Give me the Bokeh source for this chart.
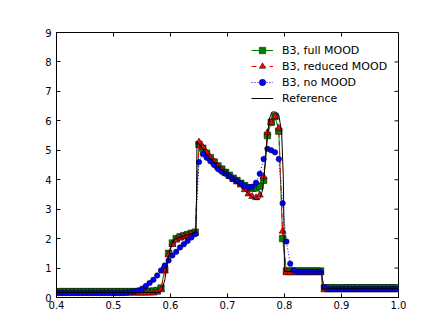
import numpy as np
from bokeh.plotting import figure
from bokeh.models import Range1d, LinearAxis, FixedTicker, Legend, LegendItem
from bokeh.embed import file_html
from bokeh.resources import INLINE

# grid of cell centres (150 cells on [0,1]), shown part x in [0.4, 1.0]
x = (np.arange(60, 150) + 0.5) / 150.0

full_mood = ([0.20] * 24 + [0.21, 0.22, 0.24, 0.32, 0.95, 1.50, 1.85, 2.00, 2.06, 2.10, 2.14, 2.18, 2.22,
              5.20, 5.07, 4.90, 4.75, 4.60, 4.47, 4.36, 4.25, 4.15, 4.05, 3.97, 3.88, 3.80, 3.73, 3.71,
              3.72, 3.78, 3.98, 5.50, 5.95, 6.15, 5.65, 2.00]
             + [0.90] * 10 + [0.33] * 20)

reduced_mood = ([0.15] * 26 + [0.18, 0.26, 0.90, 1.45, 1.80, 1.95, 2.02, 2.07, 2.11, 2.15, 2.19,
                 5.28, 5.10, 4.92, 4.75, 4.60, 4.45, 4.33, 4.22, 4.12, 4.02, 3.93, 3.82, 3.66, 3.52, 3.43,
                 3.39, 3.48, 4.10, 5.60, 5.95, 6.15, 5.75, 2.25]
                + [0.84] * 10 + [0.26] * 20)

no_mood = ([0.15] * 18 + [0.16, 0.18, 0.20, 0.24, 0.30, 0.39, 0.49, 0.60, 0.75, 0.92, 1.09, 1.26, 1.43,
            1.55, 1.70, 1.81, 1.92, 2.04, 2.15,
            4.60, 4.87, 4.75, 4.63, 4.50, 4.36, 4.27, 4.20, 4.11, 4.02, 3.95, 3.87, 3.79, 3.74, 3.76,
            3.90, 4.20, 4.70, 5.05, 5.00, 4.93, 4.70, 3.20, 1.90, 1.15, 0.92]
           + [0.87] * 7 + [0.35] + [0.29] * 19)

ref_x = [0.40, 0.58, 0.585, 0.59, 0.595, 0.600, 0.605, 0.61, 0.645, 0.6465, 0.66, 0.68, 0.70, 0.72,
         0.735, 0.745, 0.752, 0.757, 0.762, 0.766, 0.770, 0.774, 0.778, 0.785, 0.790, 0.795, 0.798,
         0.800, 0.866, 0.866, 1.00]
ref_y = [0.17, 0.17, 0.25, 0.60, 1.20, 1.70, 1.93, 2.00, 2.22, 5.30, 4.95, 4.50, 4.15, 3.85,
         3.55, 3.38, 3.32, 3.36, 3.70, 4.50, 5.50, 6.10, 6.30, 6.30, 6.20, 5.60, 4.00,
         0.88, 0.88, 0.30, 0.30]

x_ticks = [0.4, 0.5, 0.6, 0.7, 0.8, 0.9, 1.0]
x_tick_labels = ["0.4", "0.5", "0.6", "0.7", "0.8", "0.9", "1.0"]
y_ticks = [0, 1, 2, 3, 4, 5, 6, 7, 8, 9]
y_tick_labels = ["0", "1", "2", "3", "4", "5", "6", "7", "8", "9"]

labels = ["B3, full MOOD", "B3, reduced MOOD", "B3, no MOOD", "Reference"]

FONT = "DejaVu Sans"
X_MIN, X_MAX, Y_MIN, Y_MAX = 0.4, 1.0, 0.0, 9.0

p = figure(width=426, height=315, x_range=Range1d(X_MIN, X_MAX), y_range=Range1d(Y_MIN, Y_MAX),
           output_backend="svg", toolbar_location=None,
           min_border_left=56, min_border_right=28, min_border_top=32, min_border_bottom=18,
           x_axis_location=None, y_axis_location=None)
p.grid.visible = False
p.outline_line_color = "black"
p.outline_line_width = 1
p.background_fill_color = "white"
p.border_fill_color = "white"


def style_axis(ax, ticks, labs):
    ax.ticker = FixedTicker(ticks=ticks)
    ax.major_label_overrides = {t: l for t, l in zip(ticks, labs)}
    ax.axis_line_color = "black"
    ax.major_tick_in = 4
    ax.major_tick_out = 0
    ax.minor_tick_line_color = None
    ax.major_tick_line_color = "black"
    ax.major_label_text_font = FONT
    ax.major_label_text_font_size = "10px"
    ax.major_label_text_color = "black"
    ax.major_label_standoff = 3


bottom = LinearAxis()
style_axis(bottom, x_ticks, x_tick_labels)
p.add_layout(bottom, "below")
left = LinearAxis()
style_axis(left, y_ticks, y_tick_labels)
left.major_label_standoff = 5
p.add_layout(left, "left")

# inward tick marks on the top and right edges of the frame
p.ray(x=x_ticks, y=[Y_MAX] * len(x_ticks), length=4, length_units="screen",
      angle=-np.pi / 2, line_color="black", line_width=1)
p.ray(x=[X_MAX] * len(y_ticks), y=y_ticks, length=4, length_units="screen",
      angle=np.pi, line_color="black", line_width=1)

g_line = p.line(x, full_mood, line_color="#008000", line_width=1)
g_pts = p.scatter(x, full_mood, marker="square", size=6.5, fill_color="#008000",
                  line_color="black", line_width=0.5)
r_line = p.line(x, reduced_mood, line_color="#ff0000", line_width=1, line_dash="5 4")
r_pts = p.scatter(x, reduced_mood, marker="triangle", size=7, fill_color="#ff0000",
                  line_color="black", line_width=0.5)
b_line = p.line(x, no_mood, line_color="#0000ff", line_width=1, line_dash="1 2")
b_pts = p.scatter(x, no_mood, marker="circle", size=5.5, fill_color="#0000ff",
                  line_color="black", line_width=0.5)
k_line = p.line(ref_x, ref_y, line_color="black", line_width=1)

legend = Legend(items=[
    LegendItem(label=labels[0], renderers=[g_line, g_pts]),
    LegendItem(label=labels[1], renderers=[r_line, r_pts]),
    LegendItem(label=labels[2], renderers=[b_line, b_pts]),
    LegendItem(label=labels[3], renderers=[k_line]),
])
legend.location = (195, 191)
legend.padding = 0
legend.margin = 0
legend.spacing = 0
legend.label_height = 16
legend.glyph_height = 16
legend.glyph_width = 22
legend.label_standoff = 9
legend.label_text_font = FONT
legend.label_text_font_size = "11px"
legend.label_text_color = "black"
legend.border_line_alpha = 0
legend.background_fill_alpha = 0
p.add_layout(legend, "center")

open("out.html", "w").write(file_html(p, INLINE))
